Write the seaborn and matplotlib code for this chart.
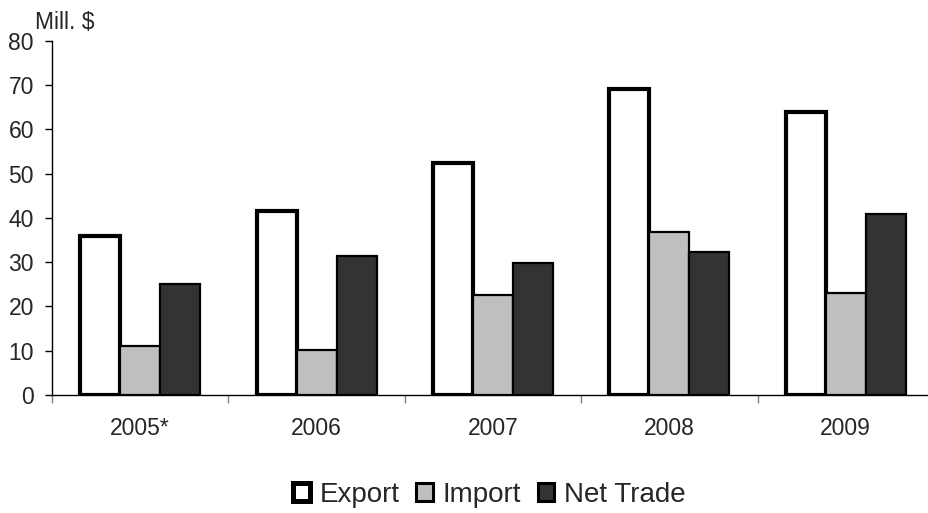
import matplotlib
matplotlib.use("Agg")
import matplotlib.pyplot as plt
import seaborn as sns
import pandas as pd
from matplotlib.patches import Patch

# Trade figures (million dollars)
years = ["2005*", "2006", "2007", "2008", "2009"]
export_vals = [36.0, 41.5, 52.3, 69.0, 63.8]
import_vals = [11.0, 10.2, 22.6, 36.7, 23.0]
net_vals = [25.0, 31.3, 29.7, 32.3, 40.8]
series = ["Export", "Import", "Net Trade"]
y_ticks = [0, 10, 20, 30, 40, 50, 60, 70, 80]

fills = {"Export": "#ffffff", "Import": "#c0bfbd", "Net Trade": "#333333"}
edge_widths = {"Export": 3.0, "Import": 1.6, "Net Trade": 1.6}

df = pd.DataFrame({
    "Year": years * 3,
    "Value": export_vals + import_vals + net_vals,
    "Series": [s for s in series for _ in years],
})

sns.set_style("white")
plt.rcParams["font.family"] = ["Liberation Sans", "DejaVu Sans"]

fig = plt.figure(figsize=(9.29, 5.13), dpi=100)
ax = fig.add_axes([52 / 929, 118 / 513, 882 / 929, 354.3 / 513])

sns.barplot(data=df, x="Year", y="Value", hue="Series", hue_order=series,
            order=years, palette=fills, width=0.68, saturation=1,
            edgecolor="black", ax=ax, legend=False)

for name, container in zip(series, ax.containers):
    for bar in container:
        bar.set_linewidth(edge_widths[name])
        bar.set_edgecolor("black")
        bar.set_joinstyle("miter")

ax.set_ylim(0, 80)
ax.set_xlim(-0.5, len(years) - 0.5)
ax.set_yticks(y_ticks)
ax.set_xlabel("")
ax.set_ylabel("")

ax.tick_params(axis="y", which="major", labelsize=16.5, length=5, width=1,
               color="black", pad=8, left=True, direction="out")
ax.tick_params(axis="x", which="major", labelsize=16.5, length=0, pad=16)
ax.set_xticks([i - 0.5 for i in range(len(years) + 1)], minor=True)
ax.tick_params(axis="x", which="minor", length=6, width=1, color="#808080",
               bottom=True, direction="out")

for side in ["top", "right"]:
    ax.spines[side].set_visible(False)
for side in ["left", "bottom"]:
    ax.spines[side].set_color("black")
    ax.spines[side].set_linewidth(1.0)

fig.text(35 / 929, 1 - 29 / 513, "Mill. $", fontsize=16.5, va="baseline", ha="left")

handles = [Patch(facecolor=fills[s], edgecolor="black", linewidth=edge_widths[s] + 0.6)
           for s in series]
fig.legend(handles, series, loc="center", bbox_to_anchor=(0.527, 0.035),
           ncol=3, frameon=False, fontsize=20, handlelength=0.6, handleheight=0.6,
           handletextpad=0.35, columnspacing=0.6, borderaxespad=0)

fig.savefig("out.png", dpi=100)
